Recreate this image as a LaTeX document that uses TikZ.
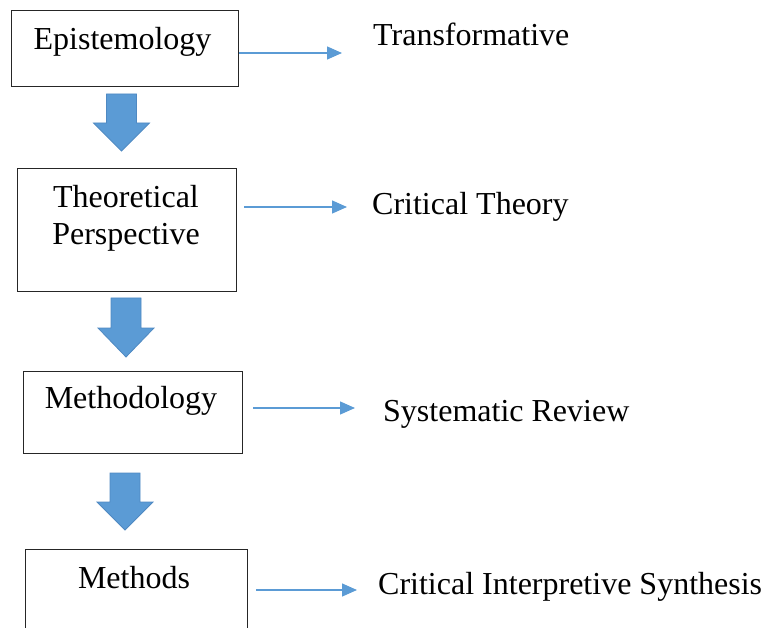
\documentclass[tikz,border=0pt]{standalone}
\usepackage{fontspec}
\setmainfont{Liberation Serif}
\usetikzlibrary{arrows.meta}

\definecolor{flowblue}{HTML}{5B9BD5}
\definecolor{flowedge}{HTML}{4F89C2}

\tikzset{
    stagebox/.style={draw=black!85, line width=1.4pt, anchor=north west, inner sep=0pt},
    stagetext/.style={anchor=base, inner sep=0pt},
    sidetext/.style={anchor=base west, inner sep=0pt},
    link/.style={draw=flowblue, line width=1.3pt, -{Triangle[length=15pt,width=13pt]}},
    bigarrow/.style={fill=flowblue, draw=flowedge, line width=0.8pt, line join=miter}
}

\begin{document}
\begin{tikzpicture}[x=1pt, y=-1pt, every node/.style={font=\fontsize{32}{30}\selectfont}]

    \useasboundingbox (0,0) rectangle (771,628);
    \clip (0,0) rectangle (771,628);

    % boxes on the left
    \node [stagebox, minimum width=227pt, minimum height=76pt] (epi) at (11,10) {};
    \node [stagebox, minimum width=219pt, minimum height=123pt] (theo) at (17,168) {};
    \node [stagebox, minimum width=219pt, minimum height=82pt] (meth) at (23,371) {};
    \node [stagebox, minimum width=222pt, minimum height=120pt] (mtds) at (25,549) {};

    \node [stagetext] (epiname) at (122.5,50) {Epistemology};
    \node [stagetext] (theoname) at (126,208) {Theoretical};
    \node [stagetext] (theoname2) at (126,245) {Perspective};
    \node [stagetext] (methname) at (131,408) {Methodology};
    \node [stagetext] (mtdsname) at (134,588) {Methods};

    % texts on the right
    \node [sidetext] (transf) at (373,46) {Transformative};
    \node [sidetext] (crit) at (372,215) {Critical Theory};
    \node [sidetext] (sysrev) at (383,421) {Systematic Review};
    \node [sidetext] (cis) at (378,594) {Critical Interpretive Synthesis};

    \coordinate (tip1) at (342,53);
    \coordinate (tip2) at (347,207);
    \coordinate (tip3) at (355,408);
    \coordinate (tip4) at (357,590);

    \draw [link] (epi.east |- tip1) -- (tip1);
    \draw [link] ([xshift=7pt]theo.east |- tip2) -- (tip2);
    \draw [link] ([xshift=10pt]meth.east |- tip3) -- (tip3);
    \draw [link] ([xshift=8pt]mtds.east |- tip4) -- (tip4);

    % block arrows between the boxes
    \foreach \cx/\top/\neck/\tip in {121.5/94/123/151, 126/298/328/357, 125/473/502/530}
        \draw [bigarrow] (\cx-15,\top) -- (\cx+15,\top) -- (\cx+15,\neck) -- (\cx+28,\neck)
            -- (\cx,\tip) -- (\cx-28,\neck) -- (\cx-15,\neck) -- cycle;

\end{tikzpicture}
\end{document}
